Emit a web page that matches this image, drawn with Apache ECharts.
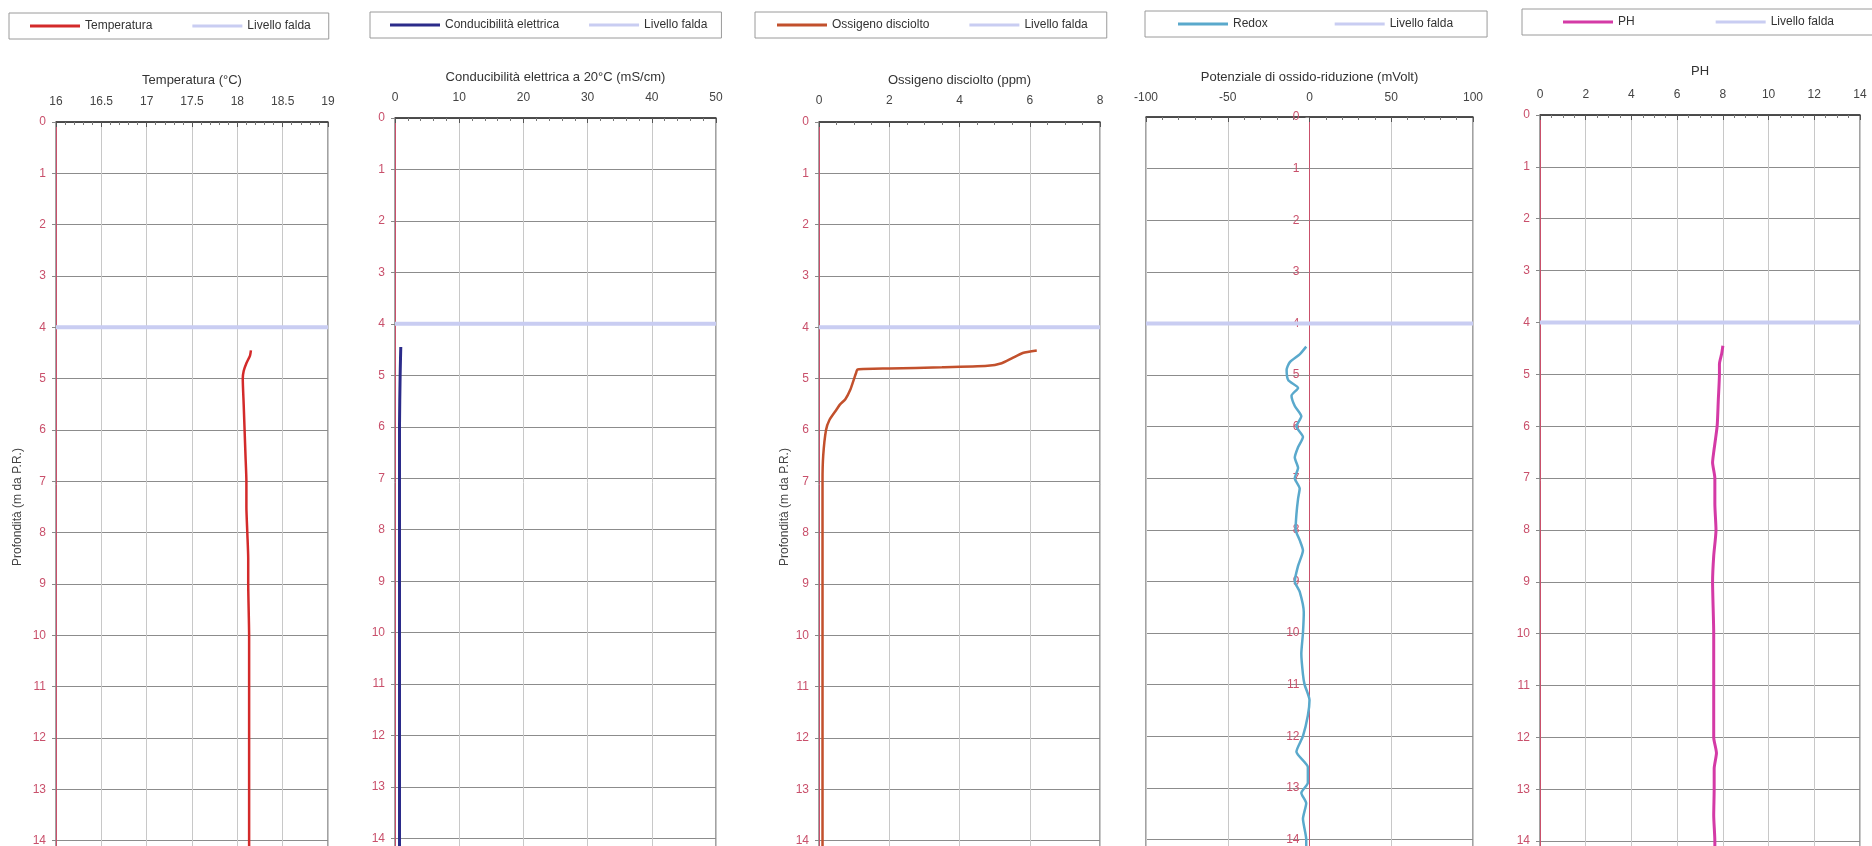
<!DOCTYPE html>
<html>
<head>
<meta charset="utf-8">
<title>Profili multiparametrici</title>
<script src="https://cdn.jsdelivr.net/npm/echarts@6/dist/echarts.min.js"></script>
<style>
  html, body { margin: 0; padding: 0; background: #fff; }
  #main { width: 1872px; height: 846px; }
</style>
</head>
<body>
<div id="main"></div>
<script>
// livello falda (m da P.R.)
var faldaDepth = 4;
var depthRange = [0, 15];

// temperatura (°C)
var tempRange = [16, 19];
var tempDepth = [4.45, 4.55, 4.7, 4.85, 5.0, 5.5, 6.0, 6.5, 7.0, 7.5, 8.0, 8.5, 9.0, 10.0, 11.0, 12.0, 13.0, 14.0, 14.3];
var tempValues = [18.15, 18.14, 18.1, 18.07, 18.06, 18.07, 18.08, 18.09, 18.1, 18.1, 18.11, 18.12, 18.12, 18.13, 18.13, 18.13, 18.13, 18.13, 18.13];

// conducibilità elettrica a 20°C (mS/cm)
var condRange = [0, 50];
var condDepth = [4.45, 5.0, 6.0, 7.0, 8.0, 9.0, 10.0, 11.0, 12.0, 13.0, 14.0, 14.3];
var condValues = [0.9, 0.8, 0.7, 0.7, 0.7, 0.7, 0.7, 0.7, 0.7, 0.7, 0.7, 0.7];

// ossigeno disciolto (ppm)
var oxyRange = [0, 8];
var oxyDepth = [4.45, 4.5, 4.6, 4.7, 4.75, 4.78, 4.8, 4.82, 4.9, 5.0, 5.2, 5.4, 5.5, 5.6, 5.8, 6.0, 6.5, 7.0, 8.0, 10.0, 12.0, 14.0, 14.3];
var oxyValues = [6.2, 5.8, 5.5, 5.2, 4.8, 3.5, 2.0, 1.1, 1.05, 1.0, 0.9, 0.75, 0.6, 0.5, 0.3, 0.2, 0.12, 0.1, 0.1, 0.1, 0.1, 0.1, 0.1];

// potenziale di ossido-riduzione (mVolt)
var redoxRange = [-100, 100];
var redoxDepth = [4.45, 4.6, 4.75, 4.9, 5.1, 5.25, 5.4, 5.6, 5.8, 6.0, 6.2, 6.4, 6.6, 6.8, 7.0, 7.2, 7.4, 7.7, 8.0, 8.2, 8.4, 8.7, 9.0, 9.2, 9.6, 10.0, 10.4, 10.8, 11.0, 11.3, 11.6, 12.0, 12.3, 12.6, 12.9, 13.1, 13.3, 13.6, 14.0, 14.3];
var redoxValues = [-2, -6, -12, -14, -13, -7, -11, -9, -5, -8, -4, -7, -9, -7, -9, -6, -7, -8, -8.5, -6, -4, -7, -9, -6, -3.5, -4, -5, -4, -3, 0, -1, -4, -8, -1, -1, -5, -2, -4, -2, -2];

// PH
var phRange = [0, 14];
var phDepth = [4.45, 4.6, 4.8, 5.0, 5.5, 6.0, 6.5, 6.7, 7.0, 7.5, 8.0, 8.5, 9.0, 10.0, 11.0, 11.5, 12.0, 12.3, 12.6, 13.0, 13.5, 14.0, 14.3];
var phValues = [8.0, 7.95, 7.85, 7.85, 7.8, 7.75, 7.6, 7.55, 7.65, 7.65, 7.7, 7.6, 7.55, 7.6, 7.6, 7.6, 7.6, 7.72, 7.62, 7.62, 7.6, 7.65, 7.65];

function pairs(xs, ys) {
  return xs.map(function (v, i) { return [v, ys[i]]; });
}

var font = "'Liberation Sans', Arial, sans-serif";
var faldaColor = '#c9cdf2';
var depthLabelColor = '#c9506b';

// layout of the five panels
var panels = [
  { left: 56,   top: 122, width: 272, height: 770, title: 'Temperatura (°C)', range: tempRange, interval: 0.5, minor: 5, nameGap: 35, margin: 14,
    legend: { left: 9, top: 13, padding: [7, 18, 7, 21], gap: 40 }, yName: 'Profondità (m da P.R.)', yNameGap: 32 },
  { left: 395,  top: 118, width: 321, height: 772, title: 'Conducibilità elettrica a 20°C (mS/cm)', range: condRange, interval: 10, minor: 5, nameGap: 34, margin: 14,
    legend: { left: 370, top: 12, padding: [7, 14, 7, 20], gap: 30 } },
  { left: 819,  top: 122, width: 281, height: 770, title: 'Ossigeno disciolto (ppm)', range: oxyRange, interval: 2, minor: 4, nameGap: 35, margin: 15,
    legend: { left: 755, top: 12, padding: [7, 19, 7, 22], gap: 40 }, yName: 'Profondità (m da P.R.)', yNameGap: 28 },
  { left: 1146, top: 117, width: 327, height: 774, title: 'Potenziale di ossido-riduzione (mVolt)', range: redoxRange, interval: 50, minor: 5, nameGap: 33, margin: 13,
    legend: { left: 1145, top: 11, padding: [7, 34, 7, 33], gap: 67 } },
  { left: 1540, top: 115, width: 320, height: 778, title: 'PH', range: phRange, interval: 2, minor: 4, nameGap: 37, margin: 14,
    legend: { left: 1522, top: 9, padding: [7, 40, 7, 41], gap: 81, width: 300 } }
];

var seriesInfo = [
  { name: 'Temperatura', color: '#d32a2a', width: 2.5, depth: tempDepth, values: tempValues },
  { name: 'Conducibilità elettrica', color: '#2b2b8a', width: 3, depth: condDepth, values: condValues },
  { name: 'Ossigeno disciolto', color: '#c2502c', width: 2.5, depth: oxyDepth, values: oxyValues },
  { name: 'Redox', color: '#5aa9cc', width: 2.5, depth: redoxDepth, values: redoxValues },
  { name: 'PH', color: '#d43aa6', width: 3, depth: phDepth, values: phValues }
];

var grid = [], xAxis = [], yAxis = [], legend = [], series = [];

panels.forEach(function (p, i) {
  grid.push({
    left: p.left, top: p.top, width: p.width, height: p.height,
    outerBoundsMode: 'none',
    show: true, borderColor: '#444', borderWidth: 1, backgroundColor: '#fff'
  });
  xAxis.push({
    gridIndex: i, type: 'value', position: 'top', min: p.range[0], max: p.range[1], interval: p.interval,
    name: p.title, nameLocation: 'middle', nameGap: p.nameGap,
    nameTextStyle: { fontFamily: font, fontSize: 13, color: '#333' },
    axisLine: { show: true, onZero: false, lineStyle: { color: '#333', width: 1.5 } },
    axisTick: { show: true, inside: true, length: 5, lineStyle: { color: '#555' } },
    minorTick: { show: true, splitNumber: p.minor, length: 3, lineStyle: { color: '#777' } },
    axisLabel: { margin: p.margin, fontFamily: font, fontSize: 12, color: '#444' },
    splitLine: { show: true, lineStyle: { color: '#c8c8c8', width: 1 } }
  });
  // depth axis crosses the x axis at 0 when 0 is inside the range
  var zeroOffset = 0;
  if (p.range[0] < 0 && p.range[1] > 0) {
    zeroOffset = -p.width * (0 - p.range[0]) / (p.range[1] - p.range[0]);
  }
  yAxis.push({
    gridIndex: i, type: 'value', inverse: true, min: depthRange[0], max: depthRange[1], interval: 1,
    offset: zeroOffset,
    name: p.yName || '', nameLocation: 'middle', nameGap: p.yNameGap || 0, nameRotate: 90,
    nameTextStyle: { fontFamily: font, fontSize: 12, color: '#444' },
    axisLine: { show: true, onZero: false, lineStyle: { color: '#c9506b', width: 1 } },
    axisTick: { show: true, length: 4, lineStyle: { color: '#888' } },
    axisLabel: { margin: 10, fontFamily: font, fontSize: 12, color: depthLabelColor },
    splitLine: { show: true, lineStyle: { color: '#8c8c8c', width: 1 } }
  });
  var s = seriesInfo[i];
  var lg = {
    left: p.legend.left, top: p.legend.top, padding: p.legend.padding, itemGap: p.legend.gap,
    icon: 'rect', itemWidth: 50, itemHeight: 3,
    borderColor: '#9a9a9a', borderWidth: 1, backgroundColor: '#fff',
    textStyle: { fontFamily: font, fontSize: 12, color: '#333' },
    data: [s.name, 'Livello falda']
  };
  if (p.legend.width) lg.width = p.legend.width;
  legend.push(lg);
  series.push({
    name: 'Livello falda', type: 'line', xAxisIndex: i, yAxisIndex: i,
    data: [[p.range[0], faldaDepth], [p.range[1], faldaDepth]],
    symbol: 'none', silent: true,
    lineStyle: { color: faldaColor, width: 4 }, itemStyle: { color: faldaColor }
  });
  series.push({
    name: s.name, type: 'line', xAxisIndex: i, yAxisIndex: i,
    data: pairs(s.values, s.depth),
    symbol: 'none', smooth: 0.2,
    lineStyle: { color: s.color, width: s.width }, itemStyle: { color: s.color }
  });
});

var myChart = echarts.init(document.getElementById('main'));
myChart.setOption({
  animation: false,
  backgroundColor: '#fff',
  grid: grid,
  xAxis: xAxis,
  yAxis: yAxis,
  legend: legend,
  series: series
});
</script>
</body>
</html>
